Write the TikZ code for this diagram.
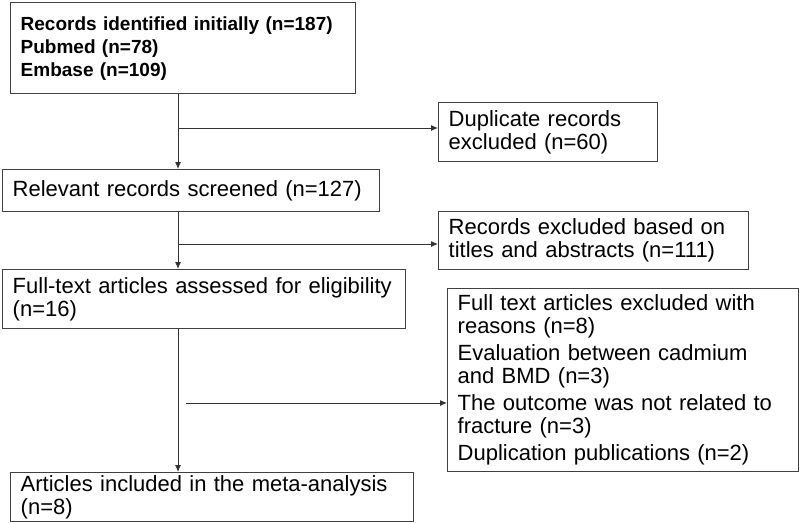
\documentclass[tikz,border=0pt]{standalone}
\usepackage{fontspec}
\setmainfont{Liberation Sans}
\usetikzlibrary{arrows.meta,positioning}

\begin{document}
\begin{tikzpicture}[
    x=1pt, y=-1pt,
    box/.style={rectangle, draw=black!75, line width=1.4pt, anchor=north west, align=left, inner xsep=10pt, inner ysep=0pt, font=\fontsize{22}{23}\selectfont},
    arr/.style={-{Latex[length=7pt,width=6pt]}, line width=1pt, black!80}
]
\useasboundingbox (0,0) rectangle (800,522);
\node[box, font=\bfseries\fontsize{19}{23}\selectfont, text width=325pt, minimum height=91pt] (init) at (10,2) {Records identified initially (n=187)\\ Pubmed (n=78)\\ Embase (n=109)\par\vspace*{9pt}};
\node[box, text width=199pt, minimum height=59pt] (dup) at (438,102) {Duplicate records\\ excluded (n=60)};
\node[box, text width=357pt, minimum height=42pt] (screen) at (2,169) {Relevant records screened (n=127)};
\node[box, text width=290pt, minimum height=58pt] (titles) at (438,211) {Records excluded based on\\ titles and abstracts (n=111)};
\node[box, text width=383pt, minimum height=59pt] (full) at (2,269) {Full-text articles assessed for eligibility\\ (n=16)};
\node[box, text width=331pt, minimum height=183pt] (reasons) at (447,288) {Full text articles excluded with\\ reasons (n=8)\\[4pt] Evaluation between cadmium\\ and BMD (n=3)\\[4pt] The outcome was not related to\\ fracture (n=3)\\[4pt] Duplication publications (n=2)};
\node[box, text width=383pt, minimum height=49pt] (incl) at (10,472) {Articles included in the meta-analysis\\ (n=8)};

\coordinate (spine) at (178,0);
\coordinate (b1) at (178,128);
\coordinate (b2) at (178,244);
\coordinate (b3) at (186,403);

\draw[arr] (init.south -| spine) -- (screen.north -| spine);
\draw[arr] (b1) -- (b1 -| dup.west);
\draw[arr] (screen.south -| spine) -- (full.north -| spine);
\draw[arr] (b2) -- (b2 -| titles.west);
\draw[arr] (full.south -| spine) -- (incl.north -| spine);
\draw[arr] (b3) -- (b3 -| reasons.west);
\end{tikzpicture}
\end{document}
